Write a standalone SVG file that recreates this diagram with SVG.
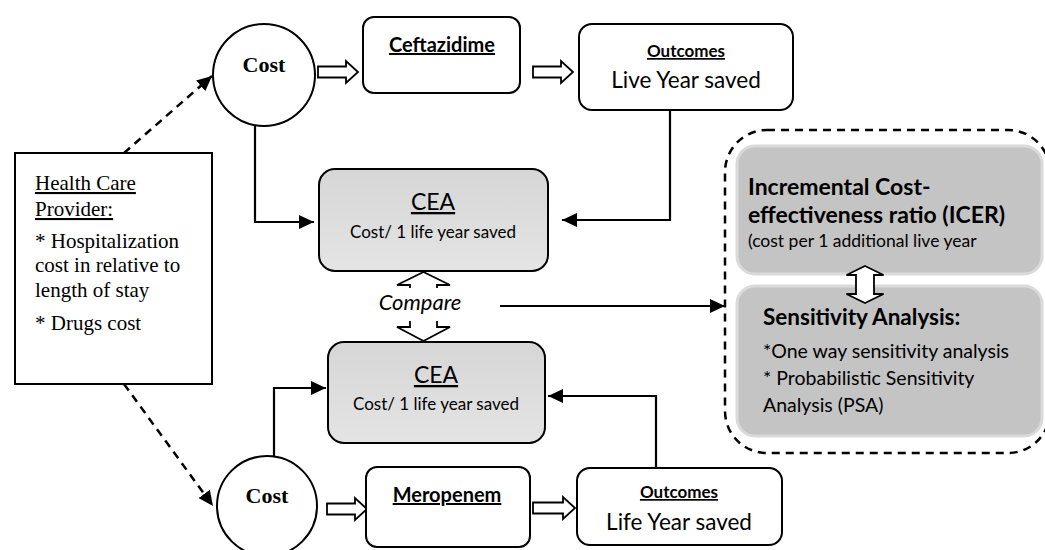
<svg xmlns="http://www.w3.org/2000/svg" width="1045" height="550" viewBox="0 0 1045 550">
<style>
.ln{fill:none;stroke:#000;stroke-width:2.2}
.dash{fill:none;stroke:#000;stroke-width:2.5;stroke-dasharray:8 6}
.box{fill:#fff;stroke:#000;stroke-width:2}
.cea{fill:url(#gcea);stroke:#000;stroke-width:2}
.gr{fill:#c4c4c4;stroke:#dadada;stroke-width:3}
.blk{fill:#fff;stroke:#000;stroke-width:1.8;stroke-linejoin:miter}
.tnr{font-family:"Liberation Serif","Times New Roman",serif;fill:#000}
.cal{font-family:Lato,"Open Sans",sans-serif;fill:#000}
.b{font-weight:bold}
.u{text-decoration:underline}
.c{text-anchor:middle}
</style>
<defs>
<linearGradient id="gcea" x1="0" y1="0" x2="0" y2="1">
<stop offset="0" stop-color="#d6d6d6"/>
<stop offset="1" stop-color="#e4e4e4"/>
</linearGradient>
<marker id="ah" markerUnits="userSpaceOnUse" markerWidth="16" markerHeight="16" refX="15" refY="8" orient="auto">
<path d="M0,1 L15,8 L0,15 Z" fill="#000"/>
</marker>
</defs>

<g id="connectors">
<path class="dash" d="M124,153 L212,76" marker-end="url(#ah)"/>
<path class="dash" d="M124,384 L213,506" marker-end="url(#ah)"/>
<path class="ln" d="M255,126 L255,222 L314,222" marker-end="url(#ah)"/>
<path class="ln" d="M670,110 L670,220 L562,220" marker-end="url(#ah)"/>
<path class="ln" d="M274,456 L274,388 L326,388" marker-end="url(#ah)"/>
<path class="ln" d="M656,468 L656,396 L548,396" marker-end="url(#ah)"/>
<path class="ln" d="M500,306 L725,306" marker-end="url(#ah)"/>
<path class="blk" d="M318,66.5 L346,66.5 L346,61 L358,72 L346,83 L346,77.5 L318,77.5 Z"/>
<path class="blk" d="M533,66.5 L561,66.5 L561,61 L573,72 L561,83 L561,77.5 L533,77.5 Z"/>
<path class="blk" d="M327,503.5 L355,503.5 L355,498 L367,509 L355,520 L355,514.5 L327,514.5 Z"/>
<path class="blk" d="M533,502.5 L563,502.5 L563,497 L575,508 L563,519 L563,513.5 L533,513.5 Z"/>
</g>

<g id="health-care-provider">
<rect class="box" x="15" y="153" width="197" height="231"/>
<text class="tnr u" x="35" y="190" font-size="21">Health Care</text>
<text class="tnr u" x="35" y="216" font-size="21">Provider:</text>
<text class="tnr" x="35" y="248" font-size="21">* Hospitalization</text>
<text class="tnr" x="35" y="272" font-size="21">cost in relative to</text>
<text class="tnr" x="35" y="297" font-size="21">length of stay</text>
<text class="tnr" x="35" y="330" font-size="21">* Drugs cost</text>
</g>

<g id="cost-top">
<circle class="box" cx="264" cy="75" r="51"/>
<text class="tnr b c" x="264" y="72" font-size="22">Cost</text>
</g>

<g id="ceftazidime">
<rect class="box" x="363" y="17" width="157" height="76" rx="11"/>
<text class="cal b u c" x="442" y="52" font-size="20">Ceftazidime</text>
</g>

<g id="outcomes-top">
<rect class="box" x="579" y="24" width="214" height="86" rx="13"/>
<text class="cal b u c" x="686" y="57" font-size="17">Outcomes</text>
<text class="cal c" x="686" y="88" font-size="22.5">Live Year saved</text>
</g>

<g id="cea-top">
<rect class="cea" x="319" y="169" width="229" height="102" rx="16"/>
<text class="cal u c" x="433" y="210" font-size="23">CEA</text>
<text class="cal c" x="433" y="238" font-size="17">Cost/ 1 life year saved</text>
</g>

<g id="compare">
<path class="blk" d="M423.5,272 L450,285 L437,285 L437,327 L450,327 L423.5,341 L397,327 L410,327 L410,285 L397,285 Z"/>
<rect x="372" y="288" width="96" height="33" fill="#fff"/>
<text class="cal c" x="420" y="310" font-size="22" font-style="italic">Compare</text>
</g>

<g id="cea-bottom">
<rect class="cea" x="328" y="342" width="217" height="101" rx="16"/>
<text class="cal u c" x="436" y="383" font-size="23">CEA</text>
<text class="cal c" x="436" y="410" font-size="17">Cost/ 1 life year saved</text>
</g>

<g id="cost-bottom">
<circle class="box" cx="267" cy="506" r="50"/>
<text class="tnr b c" x="267" y="503" font-size="22">Cost</text>
</g>

<g id="meropenem">
<rect class="box" x="366" y="467" width="164" height="80" rx="11"/>
<text class="cal b u c" x="447" y="502" font-size="20">Meropenem</text>
</g>

<g id="outcomes-bottom">
<rect class="box" x="577" y="468" width="205" height="77" rx="13"/>
<text class="cal b u c" x="679" y="498" font-size="17">Outcomes</text>
<text class="cal c" x="679" y="530" font-size="22.5">Life Year saved</text>
</g>

<g id="analysis-group">
<rect class="dash" x="725" y="130" width="325" height="323" rx="42"/>
</g>

<g id="icer">
<rect class="gr" x="737" y="146" width="305" height="128" rx="18"/>
<text class="cal b" x="748" y="195" font-size="23">Incremental Cost-</text>
<text class="cal b" x="748" y="223" font-size="23">effectiveness ratio (ICER)</text>
<text class="cal" x="748" y="247" font-size="17.5">(cost per 1 additional live year</text>
</g>

<g id="sensitivity">
<rect class="gr" x="737" y="286" width="305" height="150" rx="18"/>
<text class="cal b" x="763" y="325" font-size="22.5">Sensitivity Analysis:</text>
<text class="cal" x="763" y="358" font-size="19.5">*One way sensitivity analysis</text>
<text class="cal" x="763" y="385" font-size="19.5">* Probabilistic Sensitivity</text>
<text class="cal" x="763" y="412" font-size="19.5">Analysis (PSA)</text>
</g>

<g id="icer-sensitivity-arrow">
<path class="blk" d="M865,266 L883.5,275 L874,275 L874,294 L883.5,294 L865,303 L846.5,294 L856,294 L856,275 L846.5,275 Z"/>
</g>
</svg>
